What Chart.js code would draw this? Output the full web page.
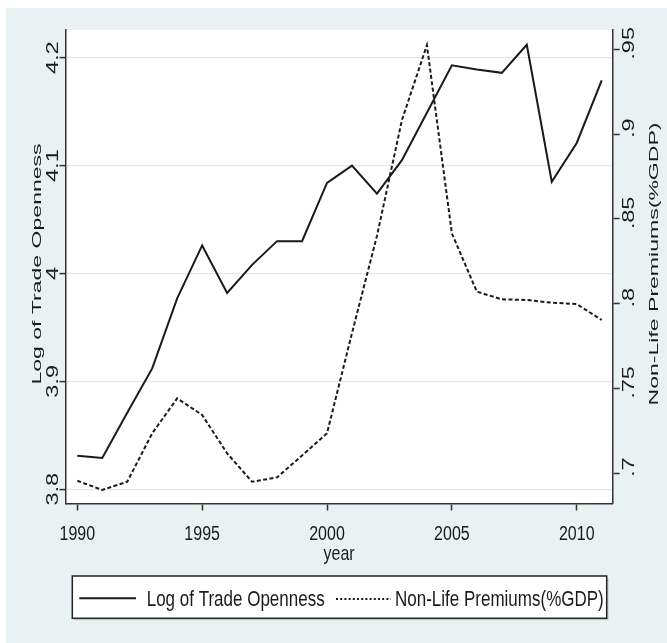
<!DOCTYPE html>
<html><head><meta charset="utf-8">
<script src="https://cdn.jsdelivr.net/npm/chart.js@4.4.1/dist/chart.umd.min.js"></script>
<style>html,body{margin:0;padding:0;background:#e9f1f3}canvas{display:block}</style>
</head><body>
<canvas id="c" width="667" height="643"></canvas>
<script>
// ---- data ----
const years = [1990,1991,1992,1993,1994,1995,1996,1997,1998,1999,2000,2001,2002,2003,2004,2005,2006,2007,2008,2009,2010,2011];
const tradeOpenness = [3.831,3.829,3.871,3.912,3.977,4.026,3.982,4.008,4.030,4.030,4.084,4.100,4.074,4.105,4.149,4.193,4.189,4.186,4.212,4.085,4.121,4.179];
const nonLifePremiums = [0.6956,0.6902,0.6950,0.7236,0.7442,0.7344,0.7118,0.6950,0.6976,0.7105,0.7236,0.7827,0.8400,0.9083,0.9525,0.8415,0.8071,0.8026,0.8022,0.8006,0.7998,0.7904];
const seriesNames = ['Log of Trade Openness','Non-Life Premiums(%GDP)'];
const xTicks = [1990,1995,2000,2005,2010];
const xTickLabels = ['1990','1995','2000','2005','2010'];
const leftTicks = [3.8,3.9,4.0,4.1,4.2];
const leftTickLabels = ['3.8','3.9','4','4.1','4.2'];
const rightTicks = [0.70,0.75,0.80,0.85,0.90,0.95];
const rightTickLabels = ['.7','.75','.8','.85','.9','.95'];
const xTitle = 'year';
const leftTitle = 'Log of Trade Openness';
const rightTitle = 'Non-Life Premiums(%GDP)';

const INK = '#1a1a1a';
const FONT = '"Liberation Sans", Arial, sans-serif';

function txt(ctx, s, x, y, o) {
  ctx.save();
  ctx.translate(x, y);
  ctx.scale(o.sx || 1, o.sy || 1);
  if (o.rot) ctx.rotate(o.rot);
  ctx.font = o.size + 'px ' + FONT;
  ctx.textAlign = o.align || 'center';
  ctx.textBaseline = o.base || 'alphabetic';
  ctx.fillStyle = INK;
  ctx.fillText(s, 0, 0);
  ctx.restore();
}

const bgPlugin = {
  id: 'bg',
  beforeDraw(chart) {
    const {ctx, chartArea: a} = chart;
    ctx.save();
    ctx.fillStyle = '#ffffff';
    ctx.fillRect(0, 0, chart.width, chart.height);
    ctx.fillStyle = '#e9f1f3';
    ctx.fillRect(6, 8, chart.width - 6, chart.height - 8);
    ctx.fillStyle = '#ffffff';
    ctx.fillRect(a.left, a.top, a.right - a.left, a.bottom - a.top);
    ctx.restore();
  }
};

const textPlugin = {
  id: 'texts',
  afterDraw(chart) {
    const {ctx, chartArea: a, scales} = chart;
    const xs = scales.x, yl = scales.y, yr = scales.y2;
    const R = -Math.PI / 2;
    xTicks.forEach((v, i) => txt(ctx, xTickLabels[i], xs.getPixelForValue(v), a.bottom + 36.5, {size: 16, sy: 1.31}));
    txt(ctx, xTitle, (a.left + a.right) / 2, a.bottom + 56.5, {size: 16, sy: 1.3});
    leftTicks.forEach((v, i) => txt(ctx, leftTickLabels[i], a.left - 7.2, yl.getPixelForValue(v), {size: 16, sy: 1.47, rot: R}));
    rightTicks.forEach((v, i) => txt(ctx, rightTickLabels[i], a.right + 21.5, yr.getPixelForValue(v) - 6, {size: 16, sy: 1.47, rot: R}));
    const cy = 264;
    txt(ctx, leftTitle, a.left - 24.5, cy, {size: 16, sx: 0.85, sy: 1.44, rot: R});
    txt(ctx, rightTitle, a.right + 45, cy, {size: 16, sx: 0.85, sy: 1.44, rot: R});

    // legend
    const L = 72.3, T = 576, W = 606.7 - 72.3, H = 618.3 - 576;
    ctx.save();
    ctx.fillStyle = '#c9d2d5';
    ctx.fillRect(L + 2, T + 2, W, H);
    ctx.fillStyle = '#ffffff';
    ctx.fillRect(L, T, W, H);
    ctx.strokeStyle = '#222';
    ctx.lineWidth = 1.5;
    ctx.strokeRect(L, T, W, H);
    ctx.strokeStyle = INK;
    ctx.lineWidth = 2;
    ctx.beginPath(); ctx.moveTo(79.3, 598.3); ctx.lineTo(136, 598.3); ctx.stroke();
    ctx.setLineDash([2, 2.2]);
    ctx.beginPath(); ctx.moveTo(336, 599); ctx.lineTo(391, 599); ctx.stroke();
    ctx.restore();
    txt(ctx, seriesNames[0], 146.7, 606, {size: 17, sy: 1.27, align: 'left'});
    txt(ctx, seriesNames[1], 395, 606, {size: 17, sy: 1.27, align: 'left'});
  }
};

const toXY = arr => years.map((yr, i) => ({x: yr, y: arr[i]}));

new Chart(document.getElementById('c'), {
  type: 'line',
  data: {
    datasets: [
      {label: seriesNames[0], data: toXY(tradeOpenness), yAxisID: 'y', borderColor: INK, borderWidth: 2, pointRadius: 0, tension: 0, fill: false},
      {label: seriesNames[1], data: toXY(nonLifePremiums), yAxisID: 'y2', borderColor: INK, borderWidth: 2, borderDash: [4, 2.4], pointRadius: 0, tension: 0, fill: false}
    ]
  },
  options: {
    responsive: false,
    animation: false,
    devicePixelRatio: 1,
    layout: {padding: {top: 30, left: 0, right: 0, bottom: 0}},
    plugins: {legend: {display: false}, tooltip: {enabled: false}},
    scales: {
      x: {
        type: 'linear', min: 1989.528, max: 2011.44,
        afterBuildTicks: s => { s.ticks = xTicks.map(v => ({value: v})); },
        afterFit: s => { s.height = 643 - 503.5; },
        ticks: {display: false},
        grid: {drawOnChartArea: false, tickLength: 7, tickColor: '#333', tickWidth: 1.5},
        border: {color: '#333', width: 1.5}
      },
      y: {
        type: 'linear', position: 'left', min: 3.7868, max: 4.2257,
        afterBuildTicks: s => { s.ticks = leftTicks.map(v => ({value: v})); },
        afterFit: s => { s.width = 65.5; },
        ticks: {display: false},
        grid: {drawOnChartArea: true, color: '#dde9ed', lineWidth: 1.2, tickLength: 6, tickColor: '#333', tickWidth: 1.5},
        border: {color: '#333', width: 1.5}
      },
      y2: {
        type: 'linear', position: 'right', min: 0.6822, max: 0.9614,
        afterBuildTicks: s => { s.ticks = rightTicks.map(v => ({value: v})); },
        afterFit: s => { s.width = 667 - 612.7; },
        ticks: {display: false},
        grid: {drawOnChartArea: false, tickLength: 7, tickColor: '#333', tickWidth: 1.5},
        border: {color: '#333', width: 1.5}
      }
    }
  },
  plugins: [bgPlugin, textPlugin]
});
</script>
</body></html>
